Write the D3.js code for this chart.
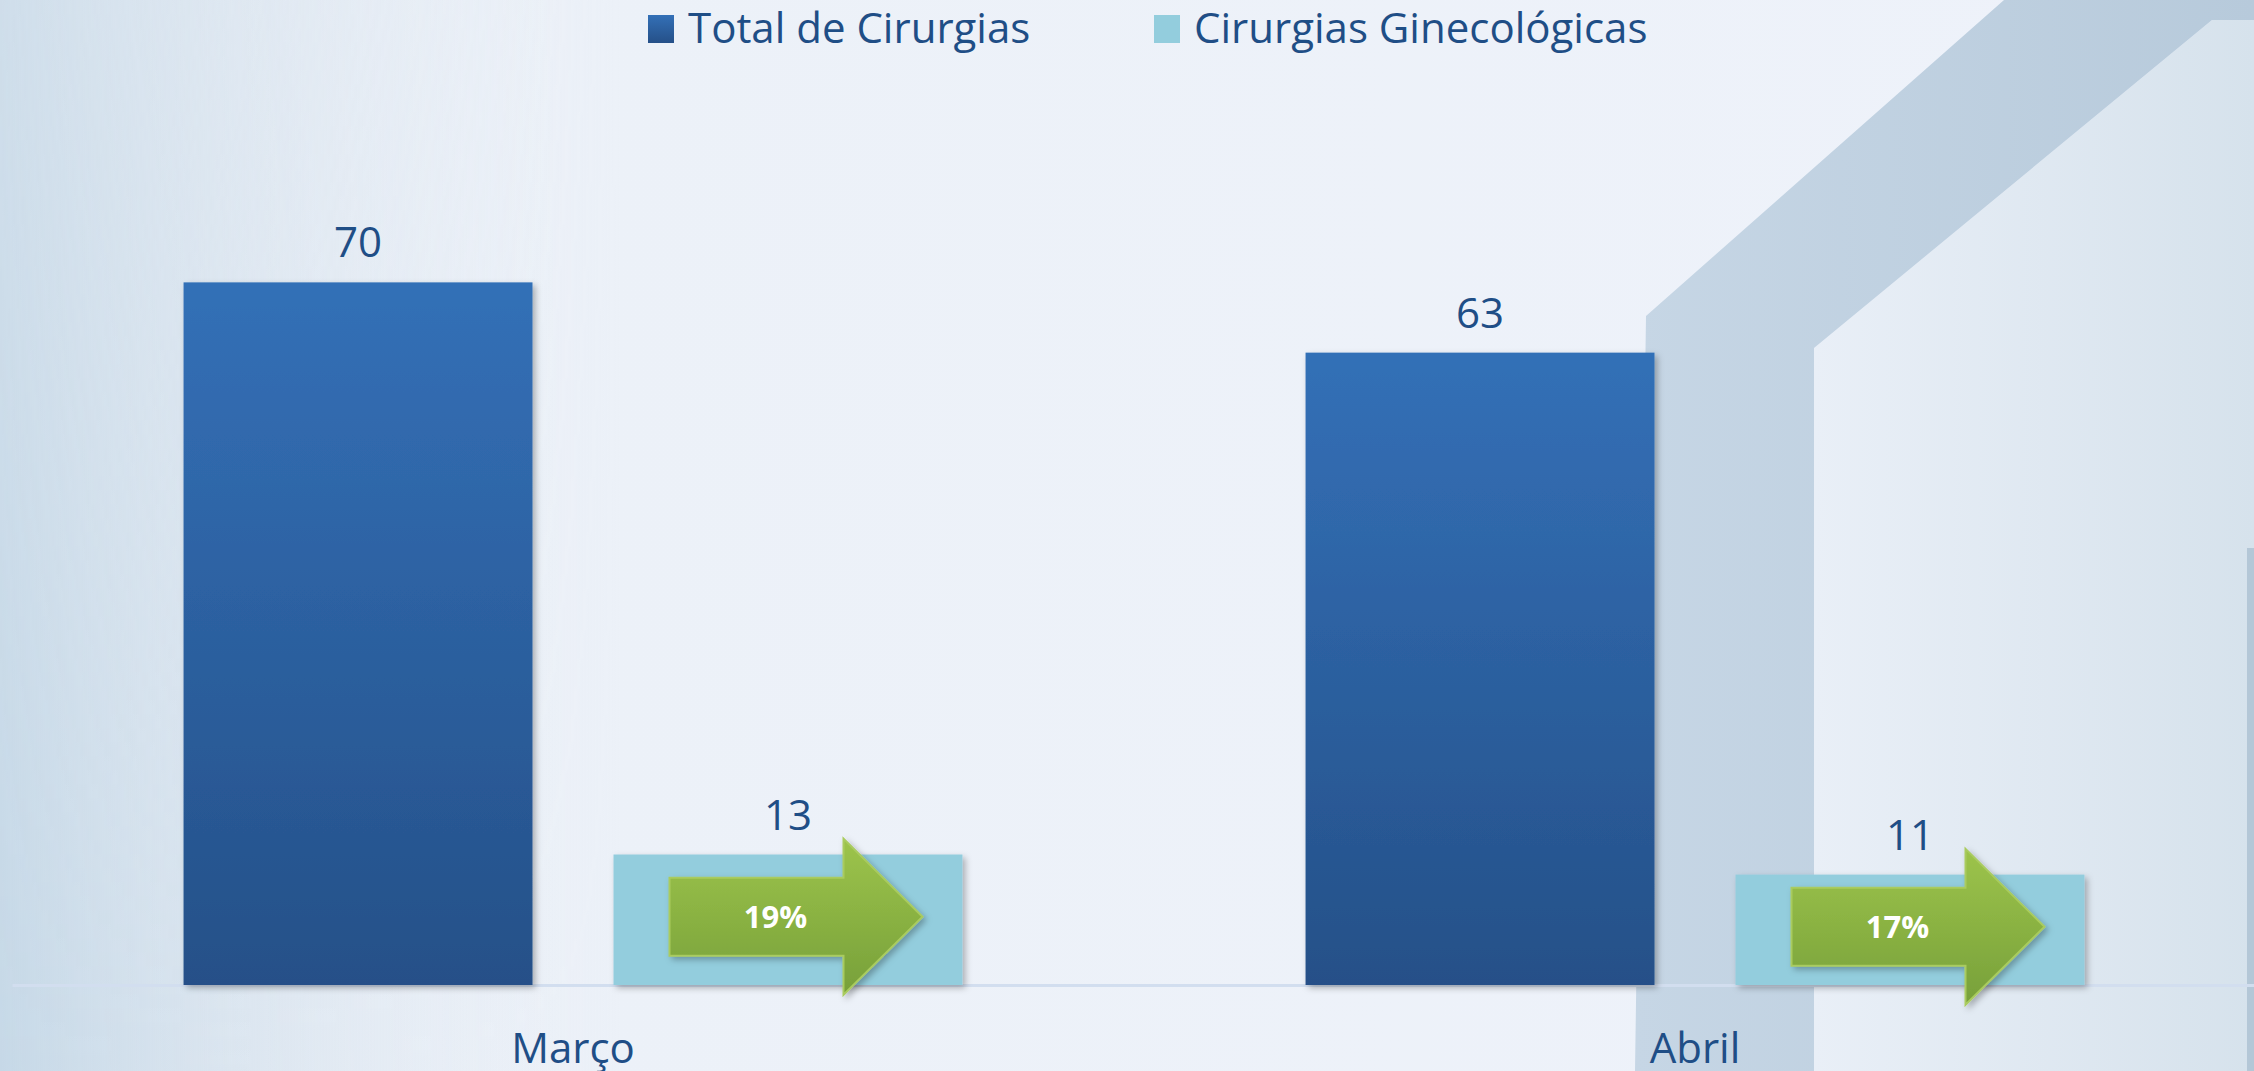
<!DOCTYPE html>
<html>
<head>
<meta charset="utf-8">
<script src="https://cdn.jsdelivr.net/npm/d3@7"></script>
<style>
    html, body { margin: 0; padding: 0; background: #eef2fa; }
    svg { display: block; }
    text { font-family: "Open Sans", "Noto Sans", sans-serif; }
</style>
</head>
<body>
<svg width="2254" height="1071"></svg>
<script>
// chart data
var categories = ['Março', 'Abril'];
var seriesKeys = ['total', 'gyn'];
var seriesNames = ['Total de Cirurgias', 'Cirurgias Ginecológicas'];
var totalValues = [70, 63];
var gynValues = [13, 11];
var shareLabels = ['19%', '17%'];

var W = 2254, H = 1071;
var TEXT_COLOR = '#1f4e86';
var GYN_FILL = '#93cddd';

var svg = d3.select('svg');
var defs = svg.append('defs');

/**
 * Small helper for vertical / horizontal linear gradients.
 */
function gradient(id, x2, y2, stops) {
    var g = defs.append('linearGradient').attr('id', id)
        .attr('x1', 0).attr('y1', 0).attr('x2', x2).attr('y2', y2);
    stops.forEach(function (s) {
        g.append('stop').attr('offset', s[0]).attr('stop-color', s[1])
            .attr('stop-opacity', s[2] === undefined ? 1 : s[2]);
    });
}

gradient('bg', 1, 0, [[0, '#e4ebf3'], [0.25, '#ecf1f8'], [1, '#eef2fa']]);
gradient('leftShade', 1, 0, [[0, '#c4d7e6', 0.95], [0.45, '#d3e0ec', 0.45], [1, '#eef2fa', 0]]);
gradient('bottomShade', 0, 1, [[0, '#ffffff', 0.7], [1, '#ffffff', 1]]);
gradient('band', 1, 0, [[0, '#c6d6e5'], [1, '#b7cadb']]);
gradient('rightSide', 1, 0, [[0, '#e9eff7'], [1, '#d6e2ec']]);
gradient('totalFill', 0, 1, [[0, '#3370b7'], [1, '#255088']]);
gradient('arrowFill', 0, 1, [[0, '#9dc44b'], [1, '#77a03a']]);

var mask = defs.append('mask').attr('id', 'leftMask');
mask.append('rect').attr('width', W).attr('height', H).attr('fill', 'url(#bottomShade)');

var shadow = defs.append('filter').attr('id', 'shadow')
    .attr('x', '-10%').attr('y', '-10%').attr('width', '130%').attr('height', '130%');
shadow.append('feDropShadow').attr('dx', 3).attr('dy', 3).attr('stdDeviation', 3)
    .attr('flood-color', '#000').attr('flood-opacity', 0.28);

// ---- background decoration ----
svg.append('rect').attr('width', W).attr('height', H).attr('fill', 'url(#bg)');
svg.append('rect').attr('width', 620).attr('height', H).attr('fill', 'url(#leftShade)')
    .attr('mask', 'url(#leftMask)');

var poly = d3.line();
svg.append('path')
    .attr('d', poly([[1814, 348], [2212, 20], [2254, 20], [2254, H], [1814, H]]) + 'Z')
    .attr('fill', 'url(#rightSide)');
svg.append('path')
    .attr('d', poly([[1635, H], [1646, 316], [2004, 0], [2254, 0], [2254, 20], [2212, 20],
        [1814, 348], [1814, H]]) + 'Z')
    .attr('fill', 'url(#band)');
svg.append('rect').attr('x', 2247).attr('y', 548).attr('width', 7).attr('height', H - 548)
    .attr('fill', '#b4c7d7');

// ---- scales ----
var x0 = d3.scaleBand().domain(categories).range([12, 2256]).padding(0);
var x1 = d3.scaleBand().domain(seriesKeys).range([0, x0.bandwidth()])
    .paddingInner(0.1884).paddingOuter(0.399);
var y = d3.scaleLinear().domain([0, 80]).range([985, 182]);

var rows = categories.map(function (c, i) {
    return { cat: c, total: totalValues[i], gyn: gynValues[i], share: shareLabels[i] };
});

// ---- axis ----
var axis = svg.append('g')
    .attr('transform', 'translate(0,' + y(0) + ')')
    .call(d3.axisBottom(x0).tickSize(0));
axis.select('.domain').attr('stroke', '#d2deef').attr('stroke-width', 3);
axis.selectAll('text')
    .attr('y', 78).attr('dy', 0)
    .attr('fill', TEXT_COLOR)
    .style('font-size', '42px');

// ---- bars ----
var groups = svg.selectAll('g.cat')
    .data(rows)
    .enter().append('g')
    .attr('class', 'cat')
    .attr('transform', function (d) { return 'translate(' + x0(d.cat) + ',0)'; });

groups.selectAll('rect')
    .data(function (d) {
        return seriesKeys.map(function (k) { return { key: k, value: d[k] }; });
    })
    .enter().append('rect')
    .attr('x', function (d) { return x1(d.key); })
    .attr('y', function (d) { return y(d.value); })
    .attr('width', x1.bandwidth())
    .attr('height', function (d) { return y(0) - y(d.value); })
    .attr('fill', function (d) { return d.key === 'total' ? 'url(#totalFill)' : GYN_FILL; })
    .attr('filter', 'url(#shadow)');

groups.selectAll('text.value')
    .data(function (d) {
        return seriesKeys.map(function (k) { return { key: k, value: d[k] }; });
    })
    .enter().append('text')
    .attr('class', 'value')
    .attr('x', function (d) { return x1(d.key) + x1.bandwidth() / 2; })
    .attr('y', function (d) { return y(d.value) - 25; })
    .attr('text-anchor', 'middle')
    .attr('fill', TEXT_COLOR)
    .style('font-size', '42px')
    .text(function (d) { return d.value; });

// ---- share arrows over the gynecology bars ----
groups.each(function (d) {
    var g = d3.select(this);
    var bx = x1('gyn');
    var cy = (y(d.gyn) + y(0)) / 2 - 3;
    var left = bx + 56, neck = bx + 230, tip = bx + 309;
    var body = 39, head = 78;
    g.append('path')
        .attr('d', poly([[left, cy - body], [neck, cy - body], [neck, cy - head], [tip, cy],
            [neck, cy + head], [neck, cy + body], [left, cy + body]]) + 'Z')
        .attr('fill', 'url(#arrowFill)')
        .attr('stroke', '#a9cb5e')
        .attr('stroke-width', 2)
        .attr('filter', 'url(#shadow)');
    g.append('text')
        .attr('x', left + 106)
        .attr('y', cy + 11)
        .attr('text-anchor', 'middle')
        .attr('fill', '#ffffff')
        .style('font-size', '31px')
        .style('font-weight', 'bold')
        .text(d.share);
});

// ---- legend ----
var legendX = [648, 1154];
var legend = svg.selectAll('g.legend')
    .data(seriesNames)
    .enter().append('g')
    .attr('class', 'legend')
    .attr('transform', function (d, i) { return 'translate(' + legendX[i] + ',0)'; });
legend.append('rect')
    .attr('x', 0).attr('y', 15).attr('width', 26).attr('height', 28)
    .attr('fill', function (d, i) { return i === 0 ? 'url(#totalFill)' : GYN_FILL; });
legend.append('text')
    .attr('x', 40).attr('y', 43)
    .attr('fill', TEXT_COLOR)
    .style('font-size', '42px')
    .text(function (d) { return d; });
</script>
</body>
</html>
